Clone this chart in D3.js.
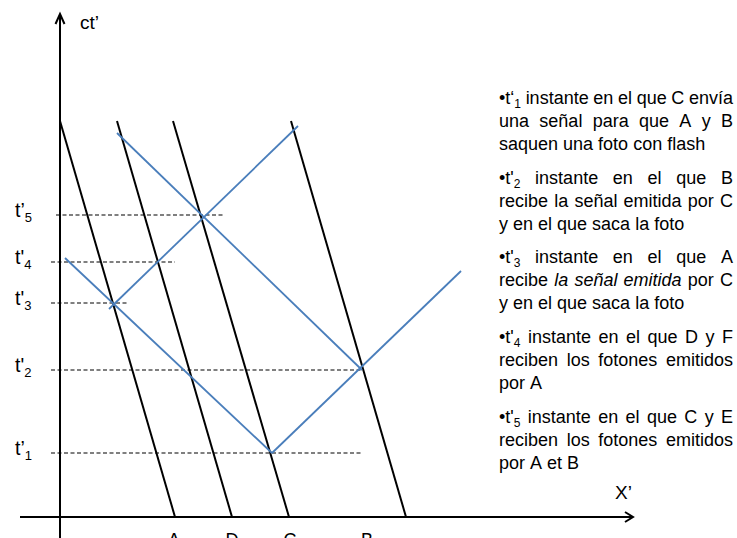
<!DOCTYPE html>
<html><head><meta charset="utf-8">
<script src="https://cdn.jsdelivr.net/npm/d3@7"></script>
<style>
body{margin:0;background:#fff}
svg{display:block}
text{font-family:"Liberation Sans",Arial,sans-serif;fill:#000}
</style>
</head><body>
<svg id="c" width="737" height="538"></svg>
<script>
// ---- data (chart units: x and ct) ----
const xDomain = [-4, 57.3];
const ctDomain = [-2.1, 50.3];

const worldLineNames  = ["A", "D", "C", "B"];
const worldLineStartX = [0, 5.7, 11.3, 23.1];
const worldLineStartCt= [39.6, 39.6, 39.6, 39.6];
const worldLineEndX   = [11.5, 17.2, 22.9, 34.6];
const worldLineEndCt  = [0, 0, 0, 0];
const worldLabelX     = [11.4, 17.2, 23.0, 30.7];

const signalStartX  = [0.5, 21.2, 4.9, 5.7];
const signalStartCt = [25.9, 6.4, 20.8, 38.4];
const signalEndX    = [21.2, 40.1, 23.8, 30.2];
const signalEndCt   = [6.4, 24.6, 39.1, 14.7];

const eventBase  = ["t’", "t'", "t'", "t'", "t’"];
const eventSub   = ["1", "2", "3", "4", "5"];
const eventCt    = [6.4, 14.7, 21.4, 25.5, 30.2];
const eventXFrom = [-0.9, -0.9, -0.9, -0.9, -0.4];
const eventXTo   = [30.3, 30.2, 6.8, 11.5, 16.3];

const axisXLabel = "X’";
const axisCtLabel = "ct’";

// "|n|" = subscript, "*word*" = italic
const legendParagraphs = [
  ["•t‘|1| instante en el que C envía", "una señal para que A y B", "saquen una foto con flash"],
  ["•t'|2| instante en el que B", "recibe la señal emitida por C", "y en el que saca la foto"],
  ["•t'|3| instante en el que A", "recibe *la* *señal* *emitida* por C", "y en el que saca la foto"],
  ["•t'|4| instante en el que D y F", "reciben los fotones emitidos", "por A"],
  ["•t'|5| instante en el que C y E", "reciben los fotones emitidos", "por A et B"]
];

// ---- drawing ----
const svg = d3.select("#c");
const x = d3.scaleLinear().domain(xDomain).range([20, 633]);
const y = d3.scaleLinear().domain(ctDomain).range([538, 14]);
const line = d3.line().x(d => x(d[0])).y(d => y(d[1]));

// dashed event lines
eventCt.forEach((c, i) => {
  svg.append("path").attr("d", line([[eventXFrom[i], c], [eventXTo[i], c]]))
    .attr("stroke", "#7f7f7f").attr("stroke-width", 2).attr("stroke-dasharray", "4 2.5").attr("fill", "none");
  const t = svg.append("text").attr("x", 15).attr("y", y(c) + 2).attr("font-size", 19.5);
  t.append("tspan").text(eventBase[i]);
  t.append("tspan").attr("font-size", 13).attr("dy", 5).text(eventSub[i]);
});

// axes
svg.append("path").attr("d", line([[0, ctDomain[0]], [0, ctDomain[1]]])).attr("stroke", "#000").attr("stroke-width", 2).attr("fill", "none");
svg.append("path").attr("d", line([[xDomain[0], 0], [xDomain[1], 0]])).attr("stroke", "#000").attr("stroke-width", 2).attr("fill", "none");
// arrowheads
const tipY = [x(0), y(ctDomain[1])];
svg.append("path").attr("d", `M${tipY[0]-4.5},${tipY[1]+10}L${tipY[0]},${tipY[1]}L${tipY[0]+4.5},${tipY[1]+10}`)
  .attr("stroke", "#000").attr("stroke-width", 2).attr("fill", "none");
const tipX = [x(xDomain[1]), y(0)];
svg.append("path").attr("d", `M${tipX[0]-8},${tipX[1]-5}L${tipX[0]},${tipX[1]}L${tipX[0]-8},${tipX[1]+5}`)
  .attr("stroke", "#000").attr("stroke-width", 2).attr("fill", "none");
svg.append("text").attr("x", 80).attr("y", 29).attr("font-size", 19).text(axisCtLabel);
svg.append("text").attr("x", 615).attr("y", 499).attr("font-size", 19).text(axisXLabel);

// world lines
worldLineNames.forEach((n, i) => {
  svg.append("path").attr("d", line([[worldLineStartX[i], worldLineStartCt[i]], [worldLineEndX[i], worldLineEndCt[i]]]))
    .attr("stroke", "#000").attr("stroke-width", 2).attr("fill", "none");
  svg.append("text").attr("x", x(worldLabelX[i])).attr("y", 546).attr("text-anchor", "middle").attr("font-size", 18).text(n);
});

// light signals
signalStartX.forEach((s, i) => {
  svg.append("path").attr("d", line([[s, signalStartCt[i]], [signalEndX[i], signalEndCt[i]]]))
    .attr("stroke", "#4a7ebb").attr("stroke-width", 1.8).attr("fill", "none");
});

// legend
const LX = 499, LW = 234, FS = 18;
legendParagraphs.forEach((para, p) => {
  para.forEach((ln, li) => {
    const by = 104 + p * 79.7 + li * 23;
    const justify = li < para.length - 1;
    const words = ln.split(" ");
    const nodes = words.map(w => {
      let italic = false;
      if (w.startsWith("*") && w.endsWith("*")) { italic = true; w = w.slice(1, -1); }
      const t = svg.append("text").attr("y", by).attr("font-size", FS).attr("font-style", italic ? "italic" : null);
      const parts = w.split("|");
      let shifted = false;
      parts.forEach((pt, k) => {
        if (!pt) return;
        const ts = t.append("tspan").text(pt);
        if (k % 2 === 1) { ts.attr("font-size", 12).attr("dy", 4); shifted = true; }
        else if (shifted) { ts.attr("dy", -4); shifted = false; }
      });
      return t;
    });
    const widths = nodes.map(n => n.node().getComputedTextLength());
    const total = d3.sum(widths);
    const space = FS * 0.278;
    const gap = justify && words.length > 1 ? (LW - total) / (words.length - 1) : space;
    let cx = LX;
    nodes.forEach((n, k) => { n.attr("x", cx); cx += widths[k] + gap; });
  });
});
</script>
</body></html>
